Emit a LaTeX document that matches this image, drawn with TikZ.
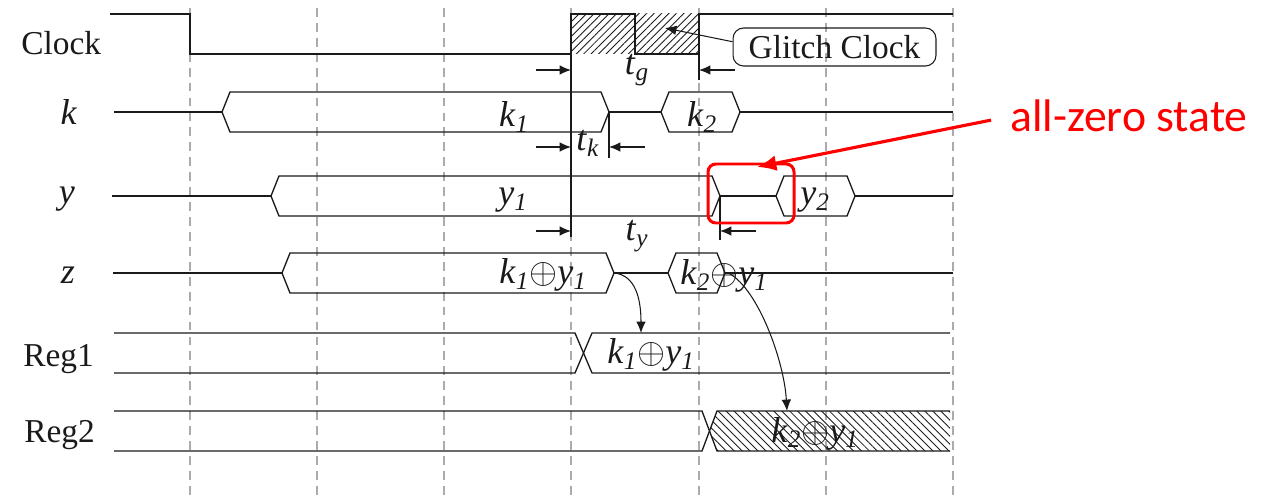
\documentclass[tikz,border=0pt]{standalone}
\usepackage{fix-cm}
\usepackage{fontspec}
\setmainfont{Liberation Serif}
\newfontfamily\notefont{Carlito}
\usetikzlibrary{arrows.meta,patterns.meta}
\definecolor{wavink}{HTML}{1A1A1A}
\definecolor{gridgray}{HTML}{ABABAB}
\definecolor{alertred}{HTML}{FF0000}
% hexagonal bus value: left tip x, right tip x, middle y
\newcommand{\busval}[3]{%
  \draw[wave] (#1,#3) -- ({#1+8},{#3-20}) -- ({#2-8},{#3-20}) -- (#2,#3)
    -- ({#2-8},{#3+20}) -- ({#1+8},{#3+20}) -- cycle;
}
\newcommand{\sigsub}[2]{\textit{#1}\textsubscript{\textit{#2}}}
\newcommand{\xorval}[2]{\sigsub{k}{#1}$\oplus$\sigsub{y}{#2}}

\begin{document}
\begin{tikzpicture}[
  x=0.02cm,
  y=-0.02cm,
  every node/.style={font=\fontsize{19}{22}\selectfont, text=wavink, inner sep=0pt},
  wave/.style={wavink, line width=0.75pt},
  gridline/.style={gridgray, line width=0.7pt, dash pattern=on 5pt off 3.5pt},
  dimarrow/.style={wavink, line width=0.6pt, -{Latex[length=6.5pt,width=5.5pt]}},
  flow/.style={wavink, line width=0.6pt, -{Latex[length=6.5pt,width=5.5pt]}},
  sigval/.style={font=\fontsize{20.5}{24}\selectfont, anchor=base}
]
  \useasboundingbox (0,0) rectangle (1281,496);

  % grid
  \foreach \gx in {190,317,444,571,699,826,953}
    \draw[gridline] (\gx,8) -- (\gx,496);

  % hatched areas
  \fill[pattern={Lines[angle=45,distance=3pt,line width=0.5pt]}, pattern color=wavink]
    (571,14) rectangle (699,54);
  \fill[pattern={Lines[angle=-45,distance=3.2pt,line width=0.5pt]}, pattern color=wavink]
    (717,411) -- (950,411) -- (950,451) -- (717,451) -- (709.5,431) -- cycle;

  % Clock
  \draw[wave] (110,14) -- (190,14) -- (190,54) -- (571,54) -- (571,14) -- (635,14)
    -- (635,54) -- (699,54) -- (699,14) -- (953,14);
  \draw[wave] (571,54) -- (571,237);
  \draw[wave] (699,54) -- (699,80);

  % k
  \draw[wave] (114,112) -- (222,112);
  \busval{222}{609}{112}
  \draw[wave] (609,112) -- (661,112);
  \busval{661}{740}{112}
  \draw[wave] (740,112) -- (953,112);
  \draw[wave] (609,112) -- (609,158);

  % y
  \draw[wave] (112,196) -- (271,196);
  \busval{271}{720}{196}
  \draw[wave] (720,196) -- (776,196);
  \busval{776}{855}{196}
  \draw[wave] (855,196) -- (953,196);
  \draw[wave] (720,196) -- (720,240);

  % z
  \draw[wave] (113,273) -- (282,273);
  \busval{282}{614}{273}
  \draw[wave] (614,273) -- (668,273);
  \busval{668}{725}{273}
  \draw[wave] (725,273) -- (953,273);

  % Reg1, Reg2
  \draw[wave] (114,333) -- (575,333) -- (592,373) -- (950,373);
  \draw[wave] (114,373) -- (575,373) -- (592,333) -- (950,333);
  \draw[wave] (114,411) -- (702,411) -- (717,451) -- (950,451);
  \draw[wave] (114,451) -- (702,451) -- (717,411) -- (950,411);

  % timing marks
  \foreach \yy/\xr in {70/699,147/609,231/720} {
    \draw[dimarrow] (536,\yy) -- (571,\yy);
    \draw[dimarrow] (\xr+36,\yy) -- (\xr,\yy);
  }

  % labels
  \node[anchor=base west] (lclock) at (21,55) {Clock};
  \node[sigval] (lk) at (69,125) {\textit{k}};
  \node[sigval] (ly) at (67,204) {\textit{y}};
  \node[sigval] (lz) at (68,284) {\textit{z}};
  \node[anchor=base west] (lreg1) at (23,367) {Reg1};
  \node[anchor=base west] (lreg2) at (24,442) {Reg2};

  \node[sigval] (vk1) at (514,127) {\sigsub{k}{1}};
  \node[sigval] (vk2) at (702,127) {\sigsub{k}{2}};
  \node[sigval] (vy1) at (513,205) {\sigsub{y}{1}};
  \node[sigval] (vy2) at (815,205) {\sigsub{y}{2}};
  \node[sigval] (vz1) at (543,284) {\xorval{1}{1}};
  \node[sigval] (vz2) at (724,285) {\xorval{2}{1}};
  \node[sigval] (vr1) at (651,364) {\xorval{1}{1}};
  \node[sigval] (vr2) at (815,442) {\xorval{2}{1}};

  \node[sigval] (tg) at (637,75) {\sigsub{t}{g}};
  \node[sigval] (tk) at (588,151) {\sigsub{t}{k}};
  \node[sigval] (ty) at (637,241) {\sigsub{t}{y}};

  % glitch note
  \node[draw=wavink, line width=0.6pt, rounded corners=6pt, minimum width=4.06cm,
    minimum height=0.76cm] (glitch) at (834.5,47) {Glitch Clock};
  \coordinate (gtip) at (665,28);
  \draw[flow] ([yshift=3pt]glitch.west) -- (gtip);

  % register arrows
  \coordinate (zk1end) at (614,273);
  \coordinate (reg1in) at (641,333);
  \draw[flow] (zk1end) .. controls (636,275) and (641,300) .. (reg1in);
  \coordinate (zk2src) at (730,274);
  \coordinate (reg2in) at (787,411);
  \draw[flow] (zk2src) .. controls (758,290) and (784,360) .. (reg2in);

  % all-zero state
  \draw[alertred, line width=1.7pt, rounded corners=4.5pt] (708,164) rectangle (794,223);
  \node[anchor=base west, text=alertred, font={\notefont\fontsize{26}{30}\selectfont}]
    (azs) at (1010,132) {all-zero state};
  \coordinate (zbox) at (757,167);
  \draw[alertred, line width=1.8pt, shorten <=11pt, -{Latex[length=11pt,width=9pt]}]
    (azs.west) -- (zbox);
\end{tikzpicture}
\end{document}
